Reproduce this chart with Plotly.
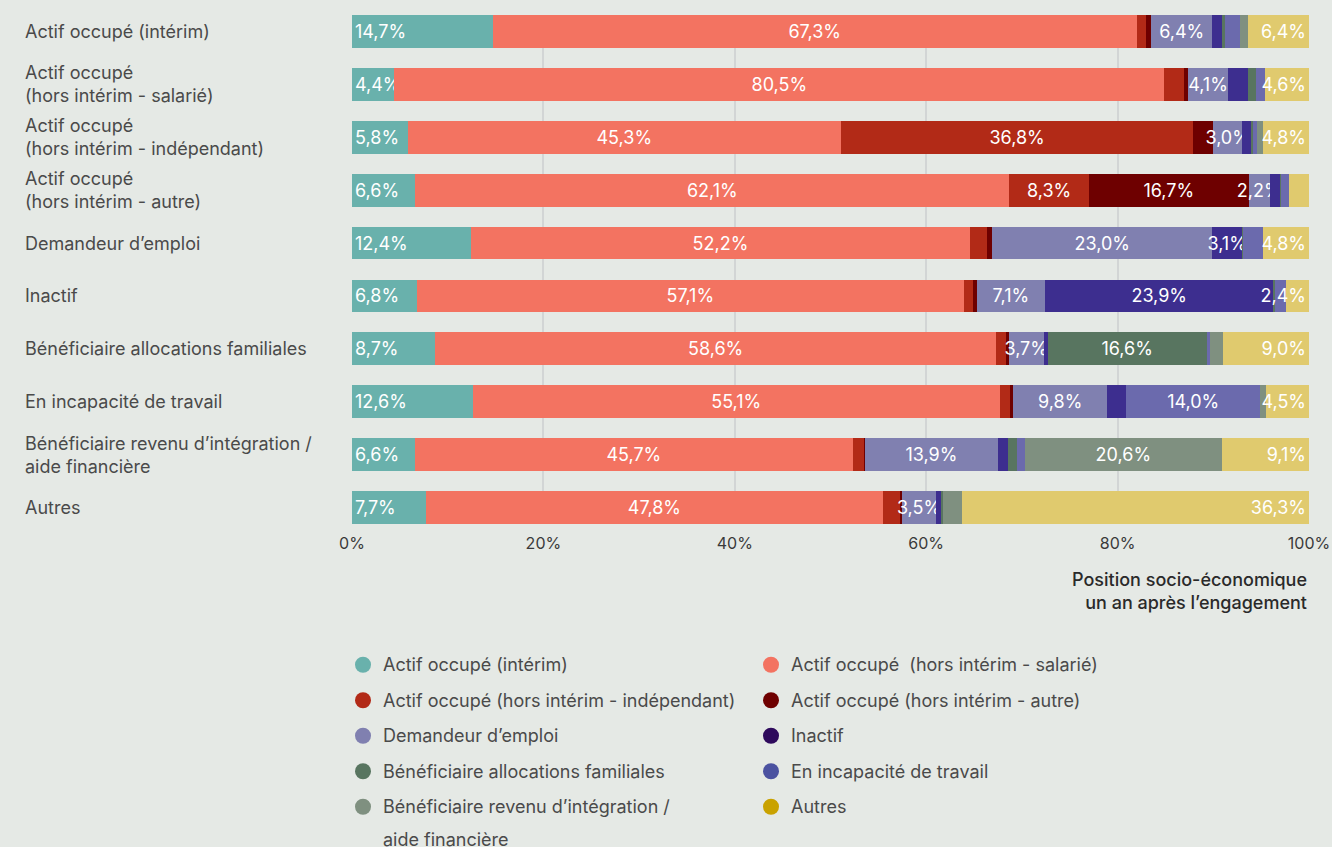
import plotly.graph_objects as go

categories = [
    "Actif occupé (intérim)",
    "Actif occupé<br>(hors intérim - salarié)",
    "Actif occupé<br>(hors intérim - indépendant)",
    "Actif occupé<br>(hors intérim - autre)",
    "Demandeur d’emploi",
    "Inactif",
    "Bénéficiaire allocations familiales",
    "En incapacité de travail",
    "Bénéficiaire revenu d’intégration /<br>aide financière",
    "Autres",
]

series_names = [
    "Actif occupé (intérim)",
    "Actif occupé  (hors intérim - salarié)",
    "Actif occupé (hors intérim - indépendant)",
    "Actif occupé (hors intérim - autre)",
    "Demandeur d’emploi",
    "Inactif",
    "Bénéficiaire allocations familiales",
    "En incapacité de travail",
    "Bénéficiaire revenu d’intégration /<br>aide financière",
    "Autres",
]

interim = [14.7, 4.4, 5.8, 6.6, 12.4, 6.8, 8.7, 12.6, 6.6, 7.7]
salarie = [67.3, 80.5, 45.3, 62.1, 52.2, 57.1, 58.6, 55.1, 45.7, 47.8]
independant = [1.0, 2.0, 36.8, 8.3, 1.8, 1.0, 1.0, 1.1, 1.2, 1.8]
autre = [0.5, 0.5, 2.1, 16.7, 0.5, 0.4, 0.3, 0.3, 0.1, 0.2]
demandeur = [6.4, 4.1, 3.0, 2.2, 23.0, 7.1, 3.7, 9.8, 13.9, 3.5]
inactif = [1.0, 2.1, 0.9, 1.1, 3.1, 23.9, 0.4, 2.0, 1.0, 0.5]
allocations = [0.3, 0.9, 0.3, 0.1, 0.1, 0.1, 16.6, 0.0, 1.0, 0.3]
incapacite = [1.6, 0.9, 0.4, 0.8, 2.1, 1.2, 0.4, 14.0, 0.8, 0.0]
revenu = [0.8, 0.0, 0.6, 0.0, 0.0, 0.0, 1.3, 0.6, 20.6, 1.9]
autres = [6.4, 4.6, 4.8, 2.1, 4.8, 2.4, 9.0, 4.5, 9.1, 36.3]

series_values = [interim, salarie, independant, autre, demandeur,
                 inactif, allocations, incapacite, revenu, autres]

x_ticks = [0, 20, 40, 60, 80, 100]

bar_colors = ["#69b1ac", "#f37361", "#b22a17", "#6e0000", "#8080b0",
              "#3d2e8f", "#587560", "#6b6aad", "#7f9080", "#e0ca6e"]
legend_colors = ["#69b1ac", "#f37361", "#b22a17", "#6e0000", "#8080b0",
                 "#2e0a5c", "#587560", "#4b52a0", "#7f9080", "#c9a200"]

BG = "#e5e9e5"
FONT = "Inter"
MIN_LABEL = 2.2


def fmt(v):
    return (f"{v:.1f}".replace(".", ",") + "%") if v >= MIN_LABEL else ""


fig = go.Figure()
n = len(series_values)
for i, (name, vals) in enumerate(zip(series_names, series_values)):
    anchor = "start" if i == 0 else "end" if i == n - 1 else "middle"
    fig.add_trace(
        go.Bar(
            x=vals,
            y=list(range(len(categories))),
            orientation="h",
            name=name.replace("<br>", " "),
            marker=dict(color=bar_colors[i], line=dict(width=0)),
            text=[fmt(v) for v in vals],
            textposition="inside",
            insidetextanchor=anchor,
            textangle=0,
            constraintext="none",
            textfont=dict(color="white", size=18, family=FONT),
            showlegend=False,
            hoverinfo="skip",
        )
    )

# legend entries (circle markers); big legend font only sets the row height
for i, name in enumerate(series_names):
    lines = name.split("<br>")
    label = "<br>".join(
        f"<span style='font-size:18px;baseline-shift:3px'>{ln}</span>" for ln in lines
    )
    fig.add_trace(
        go.Scatter(
            x=[None],
            y=[None],
            mode="markers",
            name=label,
            marker=dict(color=legend_colors[i], size=18, symbol="circle"),
            showlegend=True,
        )
    )

# left-aligned category labels
for i, cat in enumerate(categories):
    fig.add_annotation(
        x=-0.3438, xref="paper", xanchor="left",
        y=i, yref="y", yanchor="middle",
        text=cat, align="left", showarrow=False,
        font=dict(size=18, color="#4a4a4a", family=FONT),
    )

fig.add_annotation(
    x=1, xref="paper", xanchor="right",
    y=-0.085, yref="paper", yanchor="top",
    text="Position socio-économique<br>un an après l’engagement",
    align="right", showarrow=False,
    font=dict(size=18, color="#2a2a2a", family=FONT, weight=500),
)

fig.update_layout(
    barmode="stack",
    bargap=0.38,
    width=1332,
    height=847,
    paper_bgcolor=BG,
    plot_bgcolor=BG,
    font=dict(family=FONT, color="#4a4a4a"),
    margin=dict(t=15, b=323, l=352, r=23, autoexpand=False),
    xaxis=dict(
        range=[0, 100],
        tickvals=x_ticks,
        ticktext=[f"{t}%" for t in x_ticks],
        showgrid=True,
        gridcolor="#d2d5d5",
        gridwidth=2,
        zeroline=False,
        showline=False,
        ticks="",
        ticklabelstandoff=8,
        tickfont=dict(size=16, color="#3a3a3a", family=FONT),
        fixedrange=True,
    ),
    yaxis=dict(
        range=[9.31, -0.31],
        showticklabels=False,
        showgrid=False,
        zeroline=False,
        fixedrange=True,
    ),
    legend=dict(
        orientation="h",
        x=0, xanchor="left",
        y=-0.2318, yanchor="top",
        entrywidth=372,
        indentation=-9,
        valign="top",
        bgcolor="rgba(0,0,0,0)",
        font=dict(size=25, color="#4a4a4a", family=FONT),
        traceorder="normal",
    ),
)

fig.write_html(
    "out.html",
    config={"displayModeBar": False},
    post_script="document.body.style.margin='0';",
)
